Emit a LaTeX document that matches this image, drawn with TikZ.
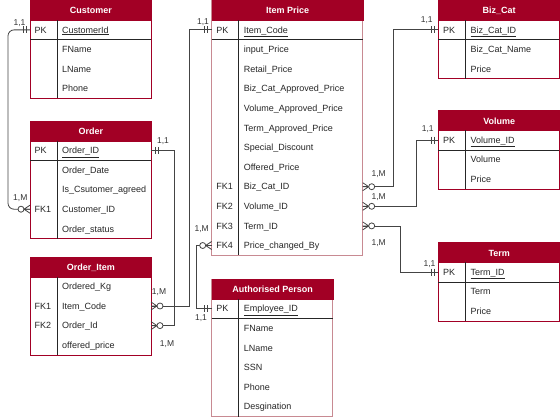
\documentclass[tikz,border=0pt]{standalone}
\usepackage{fontspec}
\setmainfont{Liberation Sans}
\definecolor{hdrred}{HTML}{A20025}
\definecolor{pinkred}{RGB}{200,138,146}
\definecolor{linegray}{HTML}{444444}
\tikzset{
 hdr/.style={fill=hdrred, draw=hdrred, line width=0.8pt, text=white,
   font=\fontsize{9}{11}\selectfont\bfseries, minimum height=19.6pt,
   text height=6.4pt, text depth=0pt, inner sep=0pt, anchor=north west},
 keytxt/.style={anchor=west, inner sep=0pt, text height=6.4pt, text depth=0pt,
   font=\fontsize{9}{11}\selectfont, text=black!85},
 fldtxt/.style={keytxt},
 divline/.style={draw=black!85, line width=0.8pt},
 conn/.style={draw=linegray, line width=0.8pt},
 card/.style={font=\fontsize{8.5}{10}\selectfont, text=black!80, inner sep=0pt},
 mandone/.pic={\draw[conn] (-4,-3.5)--(-4,3.5) (-7,-3.5)--(-7,3.5);},
 zmany/.pic={\draw[conn] (0,-4)--(-6,0)--(0,4) (0,0)--(-6,0);
   \draw[conn,fill=white] (-9,0) circle[radius=3pt];}
}
% #1 name #2 x #3 top #4 width #5 nrows #6 title #7 border colour #8 rows
\newcommand\ertable[8]{%
 \draw[draw=#7, line width=0.8pt, fill=white] (#2,#3) rectangle ++(#4,{19.6*(#5+1)});
 \node[hdr, minimum width=#4pt] (#1) at (#2,#3) {#6};
 \draw[divline] (#2+27,#3+19.6) -- ++(0,{19.6*#5});
 \foreach \k/\f [count=\i] in {#8} {
   \node[keytxt] (#1-k\i) at (#2+4.5,{#3+19.6*(\i+0.5)}) {\k};
   \node[fldtxt] (#1-f\i) at (#2+32,{#3+19.6*(\i+0.5)}) {\f};
   \coordinate (#1-w\i) at (#2,{#3+19.6*(\i+0.5)});
   \coordinate (#1-e\i) at (#2+#4,{#3+19.6*(\i+0.5)});
 }
}
\newcommand\pksep[3]{\draw[divline] (#1,#2+39.2) -- ++(#3,0);}
\begin{document}
\begin{tikzpicture}[x=1pt,y=-1pt]
\useasboundingbox (0,0) rectangle (560,420);

\ertable{cust}{30}{0.5}{121}{4}{Customer}{hdrred}{PK/\underline{CustomerId}, {}/FName, {}/LName, {}/Phone}
\pksep{30}{0.5}{121}
\ertable{ord}{30}{121}{121}{5}{Order}{hdrred}{PK/\underline{Order\_ID}, {}/Order\_Date, {}/Is\_Csutomer\_agreed, FK1/Customer\_ID, {}/Order\_status}
\pksep{30}{121}{121}
\ertable{oi}{30}{257}{121}{4}{Order\_Item}{hdrred}{{}/Ordered\_Kg, FK1/Item\_Code, FK2/Order\_Id, {}/offered\_price}
\ertable{ip}{211.7}{0.5}{151}{12}{Item Price}{pinkred}{PK/\underline{Item\_Code}, {}/input\_Price, {}/Retail\_Price, {}/Biz\_Cat\_Approved\_Price, {}/Volume\_Approved\_Price, {}/Term\_Approved\_Price, {}/Special\_Discount, {}/Offered\_Price, FK1/Biz\_Cat\_ID, FK2/Volume\_ID, FK3/Term\_ID, FK4/Price\_changed\_By}
\pksep{211.7}{0.5}{151}
\ertable{ap}{211.7}{279.3}{121}{6}{Authorised Person}{pinkred}{PK/\underline{Employee\_ID}, {}/FName, {}/LName, {}/SSN, {}/Phone, {}/Desgination}
\pksep{211.7}{279.3}{121}
\ertable{bc}{438.3}{0.5}{121}{3}{Biz\_Cat}{hdrred}{PK/\underline{Biz\_Cat\_ID}, {}/Biz\_Cat\_Name, {}/Price}
\pksep{438.3}{0.5}{121}
\ertable{vol}{438.3}{110.7}{121}{3}{Volume}{hdrred}{PK/\underline{Volume\_ID}, {}/Volume, {}/Price}
\pksep{438.3}{110.7}{121}
\ertable{term}{438.3}{242.7}{121}{3}{Term}{hdrred}{PK/\underline{Term\_ID}, {}/Term, {}/Price}
\pksep{438.3}{242.7}{121}

% Customer -- Order
\draw[conn, rounded corners=6pt] (cust-w1) -- ++(-22,0) |- (ord-w4);
\pic at (cust-w1) {mandone};
\pic at (ord-w4) {zmany};
% Order -- Order_Item
\draw[conn] (ord-e1) -- ++(23.5,0) |- (oi-e3);
\pic[xscale=-1] at (ord-e1) {mandone};
\pic[xscale=-1] at (oi-e3) {zmany};
% Item Price -- Order_Item
\draw[conn] (ip-w1) -- ++(-22,0) |- (oi-e2);
\pic at (ip-w1) {mandone};
\pic[xscale=-1] at (oi-e2) {zmany};
% Item Price -- Authorised Person
\draw[conn] (ip-w12) -- ++(-15,0) |- (ap-w1);
\pic at (ip-w12) {zmany};
\pic at (ap-w1) {mandone};
% Item Price -- Biz_Cat
\draw[conn] (ip-e9) -- ++(30.6,0) |- (bc-w1);
\pic[xscale=-1] at (ip-e9) {zmany};
\pic at (bc-w1) {mandone};
% Item Price -- Volume
\draw[conn] (ip-e10) -- ++(53.3,0) |- (vol-w1);
\pic[xscale=-1] at (ip-e10) {zmany};
\pic at (vol-w1) {mandone};
% Item Price -- Term
\draw[conn] (ip-e11) -- ++(38,0) |- (term-w1);
\pic[xscale=-1] at (ip-e11) {zmany};
\pic at (term-w1) {mandone};

% cardinalities
\node[card] (c1) at (19.5,23) {1,1};
\node[card] (c2) at (20.3,198) {1,M};
\node[card] (c3) at (163,140.7) {1,1};
\node[card] (c4) at (167,344.3) {1,M};
\node[card] (c5) at (159,292.3) {1,M};
\node[card] (c6) at (203,22.3) {1,1};
\node[card] (c7) at (201.7,229.5) {1,M};
\node[card] (c8) at (201,317.7) {1,1};
\node[card] (c9) at (378.7,173.8) {1,M};
\node[card] (c10) at (426.7,20) {1,1};
\node[card] (c11) at (378.7,197) {1,M};
\node[card] (c12) at (427.8,129.5) {1,1};
\node[card] (c13) at (378.7,242.8) {1,M};
\node[card] (c14) at (429.5,264.5) {1,1};
\end{tikzpicture}
\end{document}
